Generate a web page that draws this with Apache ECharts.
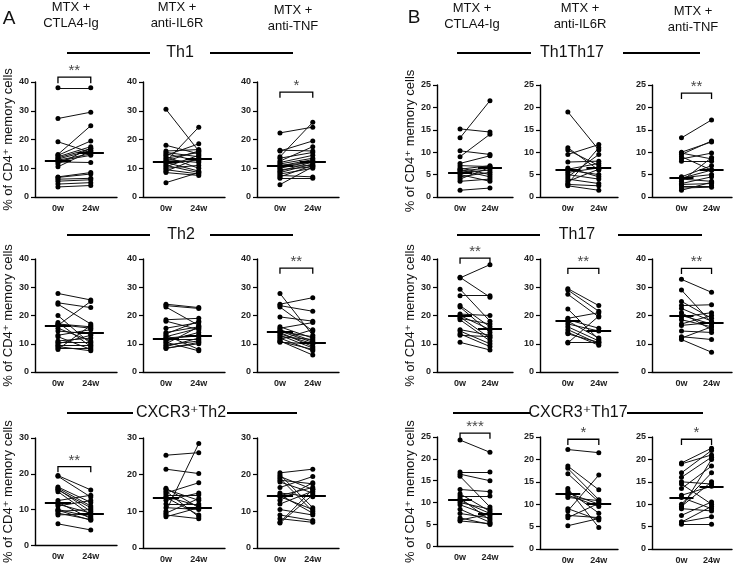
<!DOCTYPE html>
<html><head><meta charset="utf-8">
<script src="https://cdn.jsdelivr.net/npm/echarts@6/dist/echarts.min.js"></script>
<style>html,body{margin:0;padding:0;background:#fff}#c{width:740px;height:565px}</style>
</head><body><div id="c"></div><script>
// ---------- labels ----------
const timepoints = ['0w', '24w'];
const treatments = ['MTX +\nCTLA4-Ig', 'MTX +\nanti-IL6R', 'MTX +\nanti-TNF'];
const subsetsA = ['Th1', 'Th2', 'CXCR3⁺Th2'];
const subsetsB = ['Th1Th17', 'Th17', 'CXCR3⁺Th17'];
const yTitle = '% of CD4⁺ memory cells';
const yMaxA = [40, 40, 30], yStepA = [10, 10, 10];
const yMaxB = [25, 40, 25], yStepB = [5, 10, 5];

// ---------- paired values [0w, 24w] ----------
const A_Th1_CTLA4 = [[38,38],[27.3,29.5],[19.2,15.5],[14.8,24.8],[14.5,19.5],[14,17.5],[13.6,16.8],[13.2,16.2],[12.8,15],[12.5,14.5],[12.2,12],[11.5,17],[10.5,16],[7,8.5],[6.8,8],[6.2,6.5],[5.5,6],[4.5,5],[3.5,4]];
const A_Th1_IL6R = [[30.5,16],[18,15],[16,16.5],[15.5,14],[15,12.5],[14.5,18.5],[14,10],[13.5,15.5],[13,12],[12.5,16],[12.3,24.3],[12,9],[11.5,13],[11,8.5],[10.5,14.5],[10,11],[9.5,8],[9,13.5],[8.5,7.5],[5,8.5]];
const A_Th1_TNF = [[22.3,24.3],[16.3,16],[16,19.5],[14,26],[13.5,15.5],[12.5,17.5],[12,14.5],[11.5,13.5],[11,12],[10.8,13],[10.5,11],[10,12.5],[9.5,10.5],[9,12.2],[8.5,11.5],[8,10],[7.5,7],[7,11],[6.5,6.5],[4.3,10.5]];
const A_Th2_CTLA4 = [[27.8,25.5],[24.5,22.8],[24,17],[20,10],[17.5,9],[17,16],[16.8,15.5],[16.5,25],[15.5,11],[14.5,13.5],[13,15],[12.5,8],[11,12],[10.5,10.5],[10,13],[9.5,9.5],[9,7.5],[8.5,8.5],[8,16.5]];
const A_Th2_IL6R = [[24,22.8],[23.5,22.5],[23,16.5],[18.5,19],[18,15],[15.5,17.5],[14,16],[13.5,18],[13,8],[12.5,15.5],[12,13],[11.8,12.8],[11.5,11.5],[11,14],[10.5,7.5],[10,16],[9.5,11],[9,12],[8.5,10],[8.3,10.5]];
const A_Th2_TNF = [[27.8,13],[24,26.3],[23.5,21.5],[23,14.5],[19.5,18],[16,12],[15.5,17.5],[15,11],[14.5,10.5],[14.3,12.5],[14,9],[13.5,10],[13,8.5],[12.5,11.5],[12,7.5],[11.5,15],[11,6],[10.5,10],[10.8,8]];
const A_CX3Th2_CTLA4 = [[19.5,15.5],[19.3,13.5],[16.3,12],[16,11],[15.7,9.5],[15.5,10.5],[15,8.5],[12.5,14],[12,7.5],[11.5,9],[11,12.5],[10,8],[9.8,7],[9.5,10],[9,7.2],[8.5,8.8],[6,4.3]];
const A_CX3Th2_IL6R = [[25.3,26],[21.5,20.3],[16.3,11],[16,13],[15.5,8.5],[15,17.8],[14.5,14.5],[14,11.5],[13.8,9],[13,15],[12,12],[11,10.5],[10,28.5],[9.5,13.5],[9,8],[8.5,11]];
const A_CX3Th2_TNF = [[20.5,21.5],[20,11],[19.5,16],[19,10],[18.5,17.5],[18,15],[16.5,19.5],[15,14],[14.5,9.5],[14.3,16.5],[14,10.5],[13,17.8],[12,15.5],[10.5,9],[9,7.5],[8,7],[7,16],[6.8,14.5]];
const B_Th1Th17_CTLA4 = [[15.2,14.5],[13.2,21.5],[10.3,9.5],[9,14],[7.5,9.2],[7,6.8],[6.5,5],[6.2,7],[6,4.5],[5.8,6.5],[5.5,6],[5,3.5],[4.5,5.5],[4,6.6],[3.5,4],[1.5,2]];
const B_Th1Th17_IL6R = [[19,10.5],[11,6],[10.5,7],[9.5,11.7],[7.8,8],[6.5,4.5],[6.2,7.5],[6,5],[5.5,6.5],[5,4],[4.5,9.5],[4,3],[3.5,6.2],[3,11],[2.8,2.5],[2.5,1.5]];
const B_Th1Th17_TNF = [[13.2,17.2],[10,12.3],[9.8,8.5],[9.5,12.5],[9,6],[8.5,9.8],[8,8],[4.5,7],[4.3,5],[4.2,6],[4,3.5],[3.5,8.8],[3,4.5],[2.8,3],[2.5,2.5],[2,2.2],[1.5,3.3]];
const B_Th17_CTLA4 = [[33.5,26.5],[33.3,38],[29.3,18],[27,27],[23.5,16],[23,14],[20.5,20],[20,15],[19.5,12],[19,17],[18.5,11],[15,13],[14.5,10],[13.5,9],[13,12.5],[10.5,7.8]];
const B_Th17_IL6R = [[29.5,23.5],[29,21.5],[27.5,19.5],[22.3,11.5],[19,21],[18.5,15.5],[18,12],[17,14.5],[16,11],[15,10],[14,9.5],[13.5,10.5],[10.5,10.5],[10.3,19.8]];
const B_Th17_TNF = [[32.8,28.2],[29,17.5],[25,19],[23.5,23.8],[22.5,18],[21,15],[20,17],[19.5,21],[18.5,16],[17,20],[16.5,17.5],[14.5,14],[12.5,11.5],[12,16],[11.5,7]];
const B_CX3Th17_CTLA4 = [[24.3,21.5],[17,17],[16.5,15],[16,9],[13,12.5],[12,8],[11.5,11.5],[11,6],[10.5,7.5],[10,8.5],[9.5,7],[8.5,5.5],[7.5,6.5],[6.5,5],[6,7.4],[5.8,5.2]];
const B_CX3Th17_IL6R = [[22.2,21.5],[18.5,13.2],[18,11],[16.8,10.5],[13.5,4.8],[13,8],[12.5,10],[12,9.5],[11.5,10.8],[9,6.5],[8.5,16.5],[7.5,7],[7,10.2],[5.2,6.8]];
const B_CX3Th17_TNF = [[19.2,22.5],[19,21],[17,22],[16,20.5],[15,14.5],[14.5,10],[13.5,18.5],[12,14],[11.5,9],[10,17],[9.5,15],[9,8.5],[9.2,20],[7.5,10.5],[6,7.2],[5.5,5.5],[6,9.5]];

// group centre lines [0w, 24w]
const medianA = [[12.5,15.5],[12.2,13.3],[10.8,12.2],[16.5,13.8],[11.8,12.8],[14.3,10.5],[12,8.8],[13.8,11],[14.3,14.3]];
const medianB = [[5.5,6.6],[6.1,6.5],[4.2,6],[20,15.3],[18.2,14.7],[19.8,17.6],[10.7,7.4],[12.4,10],[11.4,13.8]];
// significance [stars, bracket level, bracket drop]
const sigA = [['**',41.7,2.1],null,['*',36.5,2],null,null,['**',36.8,2],['**',22,1.6],null,null];
const sigB = [null,null,['**',23.2,1.3],['**',40.3,2],['**',36.7,2],['**',36.7,2],['***',25.9,1.3],['*',24.5,1.3],['*',24.5,1.3]];

const panelsA = [A_Th1_CTLA4, A_Th1_IL6R, A_Th1_TNF, A_Th2_CTLA4, A_Th2_IL6R, A_Th2_TNF, A_CX3Th2_CTLA4, A_CX3Th2_IL6R, A_CX3Th2_TNF];
const panelsB = [B_Th1Th17_CTLA4, B_Th1Th17_IL6R, B_Th1Th17_TNF, B_Th17_CTLA4, B_Th17_IL6R, B_Th17_TNF, B_CX3Th17_CTLA4, B_CX3Th17_IL6R, B_CX3Th17_TNF];

// ---------- layout ----------
const FONT = '"Liberation Sans", Arial, "DejaVu Sans", sans-serif';
const X0 = 0.7, X1 = 1.7, HALF = 0.4;
const layout = {
  A: { left: [35,143,257], width: [82,82,82], xr: [[0,2.5],[0,2.5],[0,2.5]],
       top: [82,259,438], height: [115,113,110], yMax: yMaxA, yStep: yStepA,
       panels: panelsA, median: medianA, sig: sigA },
  B: { left: [437,540,652], width: [76,78,80], xr: [[-0.07,2.47],[-0.2,2.32],[-0.28,2.38]],
       top: [85,259,437], height: [112,113,112], yMax: yMaxB, yStep: yStepB,
       panels: panelsB, median: medianB, sig: sigB }
};

const grid = [], xAxis = [], yAxis = [], series = [];
const axisTxt = { fontSize: 9, fontWeight: 'bold', color: '#222', fontFamily: FONT };
const axLine = { show: true, onZero: false, lineStyle: { color: '#000', width: 1.4 } };

['A','B'].forEach(h => {
  const L = layout[h];
  for (let r = 0; r < 3; r++) for (let c = 0; c < 3; c++) {
    const k = r * 3 + c, gi = grid.length;
    grid.push({ left: L.left[c], top: L.top[r], width: L.width[c], height: L.height[r] });
    xAxis.push({ type: 'value', gridIndex: gi, min: L.xr[c][0], max: L.xr[c][1],
      axisLine: axLine, axisTick: { show: false }, splitLine: { show: false },
      axisLabel: { ...axisTxt, margin: 7, customValues: [X0, X1],
        formatter: v => v < 1.2 ? timepoints[0] : timepoints[1] } });
    yAxis.push({ type: 'value', gridIndex: gi, min: 0, max: L.yMax[r], interval: L.yStep[r],
      axisLine: axLine, axisTick: { show: true, length: 4, lineStyle: { color: '#000', width: 1.2 } },
      splitLine: { show: false }, axisLabel: { ...axisTxt, margin: 6 },
      name: c === 0 ? yTitle : '', nameLocation: 'middle', nameGap: 20,
      nameTextStyle: { fontSize: 13, color: '#111', fontFamily: FONT } });
    const pairs = L.panels[k], med = L.median[k], sg = L.sig[k];
    const base = { xAxisIndex: gi, yAxisIndex: gi, silent: true };
    series.push({ ...base, type: 'lines', coordinateSystem: 'cartesian2d', clip: false, z: 2,
      lineStyle: { color: '#111', width: 1, opacity: 1 },
      data: pairs.map(p => ({ coords: [[X0, p[0]], [X1, p[1]]] })) });
    series.push({ ...base, type: 'scatter', symbolSize: 5, z: 3, clip: false,
      itemStyle: { color: '#000', opacity: 1 },
      data: pairs.flatMap(p => [[X0, p[0]], [X1, p[1]]]) });
    series.push({ ...base, type: 'lines', coordinateSystem: 'cartesian2d', clip: false, z: 4,
      lineStyle: { color: '#000', width: 2, opacity: 1 },
      data: [{ coords: [[X0 - HALF, med[0]], [X0 + HALF, med[0]]] },
             { coords: [[X1 - HALF, med[1]], [X1 + HALF, med[1]]] }] });
    if (sg) {
      series.push({ ...base, type: 'lines', coordinateSystem: 'cartesian2d', polyline: true, clip: false,
        lineStyle: { color: '#000', width: 1.3, opacity: 1 },
        data: [{ coords: [[X0, sg[1] - sg[2]], [X0, sg[1]], [X1, sg[1]], [X1, sg[1] - sg[2]]] }] });
      series.push({ ...base, type: 'scatter', symbolSize: 1, clip: false,
        itemStyle: { color: 'rgba(0,0,0,0)' },
        label: { show: true, position: 'top', distance: -2, formatter: sg[0],
          fontSize: 15, color: '#111', fontFamily: FONT },
        data: [[(X0 + X1) / 2, sg[1]]] });
    }
  }
});

// ---------- header texts & section rules ----------
const graphic = [];
const txt = (x, y, s, size, extra) => graphic.push({ type: 'text', x, y,
  style: { text: s, font: size + 'px ' + FONT, fill: '#111', textAlign: 'center', textVerticalAlign: 'middle', ...(extra||{}) } });
const rule = (x1, x2, y) => graphic.push({ type: 'line', shape: { x1, y1: y, x2, y2: y },
  style: { stroke: '#000', lineWidth: 1.8 } });

txt(9, 19, 'A', 19); txt(414, 18, 'B', 19);
const hdrA = [[71, 15], [177, 15], [293, 18]], hdrB = [[472, 16], [580, 16], [693, 19]];
treatments.forEach((t, i) => {
  txt(hdrA[i][0], hdrA[i][1], t, 13, { lineHeight: 16 });
  txt(hdrB[i][0], hdrB[i][1], t, 13, { lineHeight: 16 });
});
const secA = [[180, 53, [67,150], [210,293]], [181, 235, [67,150], [210,293]], [181, 413, [67,133], [227,297]]];
const secB = [[572, 53, [457,531], [623,700]], [577, 235, [457,540], [618,702]], [578, 413, [453,530], [627,703]]];
secA.forEach((s, i) => { txt(s[0], s[1], subsetsA[i], 16); rule(s[2][0], s[2][1], s[1]); rule(s[3][0], s[3][1], s[1]); });
secB.forEach((s, i) => { txt(s[0], s[1], subsetsB[i], 16); rule(s[2][0], s[2][1], s[1]); rule(s[3][0], s[3][1], s[1]); });

const chart = echarts.init(document.getElementById('c'));
chart.setOption({ animation: false, backgroundColor: '#fff', grid, xAxis, yAxis, series, graphic });
</script></body></html>
